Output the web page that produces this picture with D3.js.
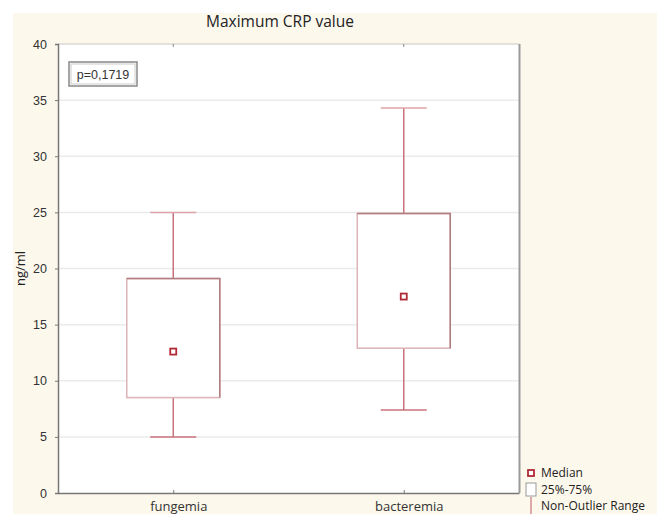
<!DOCTYPE html>
<html>
<head>
<meta charset="utf-8">
<script src="https://cdn.jsdelivr.net/npm/d3@7"></script>
<style>
  body { margin: 0; background: #fff; }
  text { font-family: "Liberation Sans", Arial, sans-serif; }
</style>
</head>
<body>
<svg id="chart"></svg>
<script>
const width = 657;
const height = 514;

// data
const groups = ["fungemia", "bacteremia"];
const whiskerLow = [5.0, 7.4];
const q1 = [8.5, 12.9];
const medians = [12.6, 17.5];
const q3 = [19.1, 24.9];
const whiskerHigh = [25.0, 34.3];
const yTicks = [0, 5, 10, 15, 20, 25, 30, 35, 40];

const margin = { top: 44, right: 138, bottom: 21, left: 58 };

const svg = d3.select("#chart")
    .attr("width", width)
    .attr("height", height);

// cream page background
svg.append("rect")
    .attr("x", 13).attr("y", 13)
    .attr("width", width - 13).attr("height", height - 13)
    .attr("fill", "#fdf8ec");

const x = d3.scalePoint()
    .domain(groups)
    .range([margin.left, width - margin.right])
    .padding(0.5);

const y = d3.scaleLinear()
    .domain([0, 40])
    .range([height - margin.bottom, margin.top]);

// plot area
svg.append("rect")
    .attr("x", margin.left)
    .attr("y", margin.top)
    .attr("width", width - margin.right - margin.left)
    .attr("height", height - margin.bottom - margin.top)
    .attr("fill", "#fff");

// grid
svg.append("g")
    .selectAll("line")
    .data(yTicks.slice(1, -1))
    .enter().append("line")
    .attr("x1", margin.left)
    .attr("x2", width - margin.right)
    .attr("y1", d => y(d))
    .attr("y2", d => y(d))
    .attr("stroke", "#ebebeb")
    .attr("stroke-width", 1.5);

// frame: top + right in lighter/darker gray
svg.append("line")
    .attr("x1", margin.left).attr("x2", width - margin.right)
    .attr("y1", margin.top).attr("y2", margin.top)
    .attr("stroke", "#c8c8c8").attr("stroke-width", 1);
svg.append("line")
    .attr("x1", width - margin.right + 0.5).attr("x2", width - margin.right + 0.5)
    .attr("y1", margin.top).attr("y2", height - margin.bottom)
    .attr("stroke", "#999").attr("stroke-width", 2);

// y axis
const yAxis = svg.append("g")
    .attr("transform", `translate(${margin.left},0)`)
    .call(d3.axisLeft(y).tickValues(yTicks).tickSize(3).tickPadding(8));
yAxis.select(".domain").attr("stroke", "#777").attr("stroke-width", 1.5);
yAxis.selectAll(".tick line").attr("stroke", "#777");
yAxis.selectAll(".tick text").attr("fill", "#333").style("font-size", "12.5px");

// x axis
const xAxis = svg.append("g")
    .attr("transform", `translate(0,${height - margin.bottom})`)
    .call(d3.axisBottom(x).tickSize(-3).tickPadding(9).tickSizeOuter(0));
xAxis.select(".domain").attr("stroke", "#777").attr("stroke-width", 1.5);
xAxis.selectAll(".tick line").attr("stroke", "#777");
xAxis.selectAll(".tick text").attr("fill", "#333").style("font-size", "13px")
    .attr("dx", 5)
    .style("font-family", "'Open Sans', sans-serif");

// small ticks on the top border
svg.append("g")
    .selectAll("line")
    .data(groups)
    .enter().append("line")
    .attr("x1", d => x(d)).attr("x2", d => x(d))
    .attr("y1", margin.top).attr("y2", margin.top + 3)
    .attr("stroke", "#888");

const boxW = 93;
const capW = 46;
const whiskerColor = "#c8737b";

const boxes = svg.append("g")
    .selectAll("g")
    .data(groups.map((g, i) => ({ g, lo: whiskerLow[i], q1: q1[i], med: medians[i], q3: q3[i], hi: whiskerHigh[i] })))
    .enter().append("g");

// whiskers
boxes.append("line")
    .attr("x1", d => x(d.g)).attr("x2", d => x(d.g))
    .attr("y1", d => y(d.hi)).attr("y2", d => y(d.q3))
    .attr("stroke", whiskerColor).attr("stroke-width", 1.5);
boxes.append("line")
    .attr("x1", d => x(d.g)).attr("x2", d => x(d.g))
    .attr("y1", d => y(d.q1)).attr("y2", d => y(d.lo))
    .attr("stroke", whiskerColor).attr("stroke-width", 1.5);
boxes.append("line")
    .attr("x1", d => x(d.g) - capW / 2).attr("x2", d => x(d.g) + capW / 2)
    .attr("y1", d => y(d.hi)).attr("y2", d => y(d.hi))
    .attr("stroke", "#dfa3a8").attr("stroke-width", 1.5);
boxes.append("line")
    .attr("x1", d => x(d.g) - capW / 2).attr("x2", d => x(d.g) + capW / 2)
    .attr("y1", d => y(d.lo)).attr("y2", d => y(d.lo))
    .attr("stroke", whiskerColor).attr("stroke-width", 1.5);

// box body
boxes.append("rect")
    .attr("x", d => x(d.g) - boxW / 2)
    .attr("y", d => y(d.q3))
    .attr("width", boxW)
    .attr("height", d => y(d.q1) - y(d.q3))
    .attr("fill", "#fff")
    .attr("stroke", "#dcb3b6")
    .attr("stroke-width", 1.5);
// darker top and right edges
boxes.append("path")
    .attr("d", d => `M${x(d.g) - boxW / 2},${y(d.q3)}H${x(d.g) + boxW / 2}V${y(d.q1)}`)
    .attr("fill", "none")
    .attr("stroke", "#b07c80")
    .attr("stroke-width", 1.5);

// median marker
boxes.append("rect")
    .attr("x", d => x(d.g) - 3)
    .attr("y", d => y(d.med) - 3)
    .attr("width", 6).attr("height", 6)
    .attr("fill", "#fff")
    .attr("stroke", "#b02a35")
    .attr("stroke-width", 1.8);

// title
svg.append("text")
    .attr("x", 280).attr("y", 27)
    .attr("text-anchor", "middle")
    .style("font-family", "'Open Sans', sans-serif")
    .style("font-size", "15.5px")
    .attr("fill", "#222")
    .text("Maximum CRP value");

// y label
svg.append("text")
    .attr("transform", `translate(25,${(margin.top + height - margin.bottom) / 2}) rotate(-90)`)
    .attr("text-anchor", "middle")
    .style("font-family", "'Open Sans', sans-serif")
    .style("font-size", "13px")
    .attr("fill", "#222")
    .text("ng/ml");

// p-value box
const pg = svg.append("g");
pg.append("rect")
    .attr("x", 69).attr("y", 62).attr("width", 68).attr("height", 24)
    .attr("fill", "#fff").attr("stroke", "#888").attr("stroke-width", 1.5);
pg.append("rect")
    .attr("x", 71).attr("y", 64).attr("width", 64).attr("height", 20)
    .attr("fill", "none").attr("stroke", "#ccc").attr("stroke-width", 1);
pg.append("text")
    .attr("x", 103).attr("y", 79)
    .attr("text-anchor", "middle")
    .style("font-size", "12.5px")
    .attr("fill", "#333")
    .text("p=0,1719");

// legend
const lg = svg.append("g").attr("transform", "translate(531,0)");
lg.append("rect")
    .attr("x", -3).attr("y", 470).attr("width", 6).attr("height", 6)
    .attr("fill", "#fff").attr("stroke", "#b02a35").attr("stroke-width", 1.8);
lg.append("text").attr("x", 10).attr("y", 477).text("Median");
lg.append("rect")
    .attr("x", -5).attr("y", 483).attr("width", 10).attr("height", 13)
    .attr("fill", "#fff").attr("stroke", "#999").attr("stroke-width", 1);
lg.append("text").attr("x", 10).attr("y", 493.5).text("25%-75%");
lg.append("line")
    .attr("x1", 0).attr("x2", 0).attr("y1", 497).attr("y2", 514)
    .attr("stroke", whiskerColor).attr("stroke-width", 1.2);
lg.append("text").attr("x", 10).attr("y", 510).text("Non-Outlier Range");
lg.selectAll("text")
    .style("font-family", "'Open Sans', sans-serif")
    .style("font-size", "12px")
    .attr("fill", "#222");
</script>
</body>
</html>
